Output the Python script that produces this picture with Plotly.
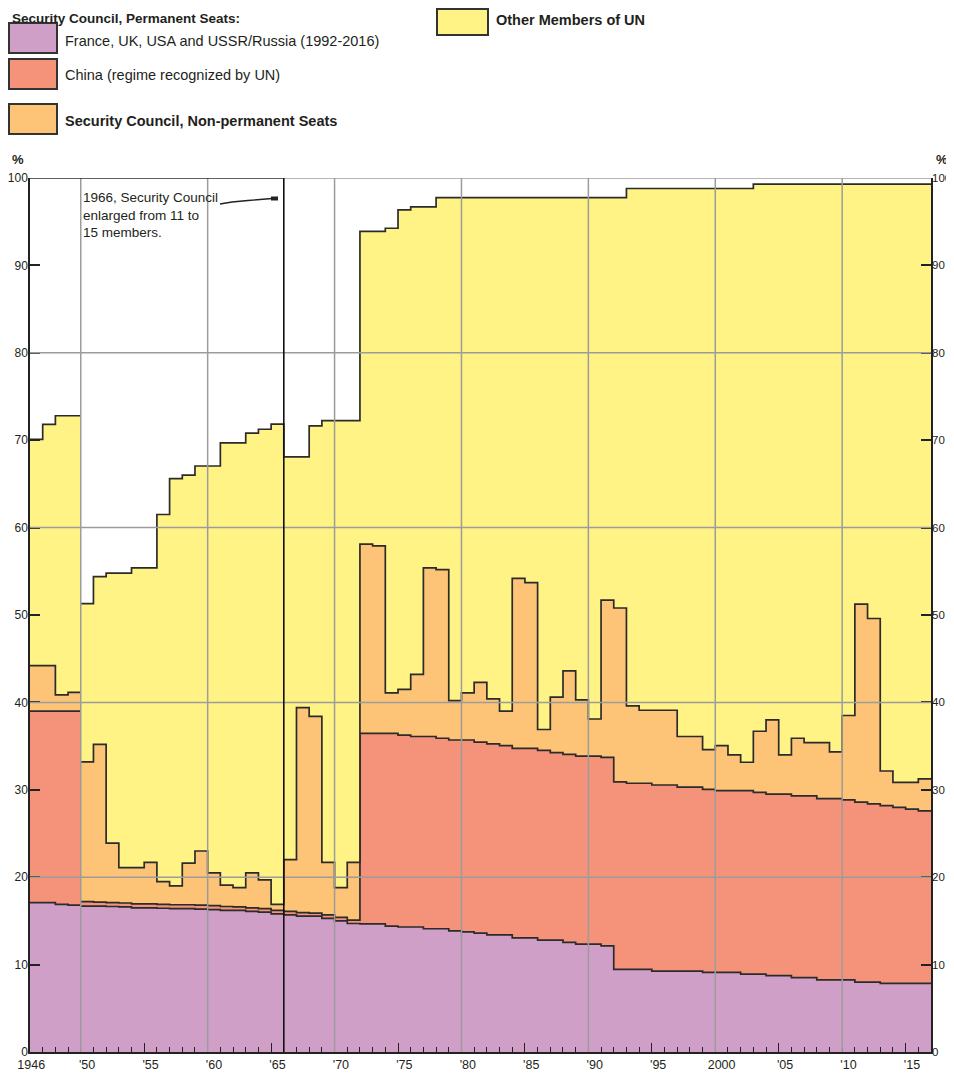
import plotly.graph_objects as go

# ---------------- data ----------------
years = list(range(1946, 2017))

# cumulative top of each band, % of world population
p5_top = [17.1, 17.1, 16.9, 16.8,
          16.7, 16.7, 16.65, 16.6, 16.5, 16.5, 16.45, 16.4, 16.4, 16.35,
          16.3, 16.2, 16.2, 16.1, 16.0, 15.8,
          15.7, 15.55, 15.55, 15.3, 15.0, 14.7, 14.65, 14.65, 14.4, 14.3,
          14.3, 14.1, 14.1, 13.85, 13.75, 13.6, 13.4, 13.4, 13.05, 13.05,
          12.8, 12.8, 12.55, 12.35, 12.35, 12.15, 9.45, 9.45, 9.45, 9.25,
          9.25, 9.25, 9.25, 9.1, 9.1, 9.1, 8.9, 8.9, 8.75, 8.75,
          8.5, 8.5, 8.25, 8.25, 8.25, 8.0, 8.0, 7.85, 7.85, 7.85, 7.85]

china_top = [39.0, 39.0, 39.0, 39.0,
             17.2, 17.15, 17.1, 17.05, 16.95, 16.95, 16.9, 16.85, 16.85, 16.8,
             16.75, 16.65, 16.6, 16.5, 16.4, 16.2,
             16.1, 15.95, 15.9, 15.7, 15.4, 15.1, 36.45, 36.45, 36.45, 36.25,
             36.1, 36.1, 35.9, 35.7, 35.7, 35.45, 35.25, 35.05, 34.75, 34.75,
             34.5, 34.25, 34.05, 33.85, 33.85, 33.7, 30.9, 30.75, 30.75, 30.55,
             30.55, 30.3, 30.3, 30.05, 29.9, 29.9, 29.9, 29.7, 29.5, 29.5,
             29.3, 29.3, 29.0, 29.0, 28.85, 28.6, 28.4, 28.2, 28.0, 27.8, 27.6]

np_top = [44.2, 44.2, 40.85, 41.15,
          33.2, 35.2, 23.9, 21.1, 21.1, 21.7, 19.5, 19.0, 21.6, 23.0,
          20.5, 19.1, 18.8, 20.5, 19.7, 16.9,
          22.0, 39.4, 38.4, 21.7, 18.8, 21.7, 58.1, 57.9, 41.1, 41.5,
          43.2, 55.4, 55.2, 40.2, 41.1, 42.3, 40.4, 39.0, 54.2, 53.7,
          36.9, 40.6, 43.6, 40.3, 38.1, 51.7, 50.8, 39.6, 39.1, 39.1,
          39.1, 36.1, 36.1, 34.6, 35.05, 34.0, 33.15, 36.7, 38.0, 34.0,
          35.9, 35.4, 35.4, 34.35, 38.5, 51.25, 49.6, 32.15, 30.85, 30.85, 31.25]

total = [70.1, 71.8, 72.8, 72.8,
         51.3, 54.4, 54.8, 54.8, 55.4, 55.4, 61.5, 65.6, 66.0, 67.05,
         67.05, 69.7, 69.7, 70.8, 71.25, 71.85,
         68.1, 68.1, 71.65, 72.25, 72.25, 72.25, 93.9, 93.9, 94.25, 96.35,
         96.7, 96.7, 97.75, 97.75, 97.75, 97.75, 97.75, 97.75, 97.75, 97.75,
         97.75, 97.75, 97.75, 97.75, 97.75, 97.75, 97.75, 98.8, 98.8, 98.8,
         98.8, 98.8, 98.8, 98.8, 98.8, 98.8, 98.8, 99.3, 99.3, 99.3,
         99.3, 99.3, 99.3, 99.3, 99.3, 99.3, 99.3, 99.3, 99.3, 99.3, 99.3]

segment_starts = [1946, 1950]          # series is broken at 1950
enlargement_year = 1966

layer_names = ["France, UK, USA and USSR/Russia (1992-2016)",
               "China (regime recognized by UN)",
               "Security Council, Non-permanent Seats",
               "Other Members of UN"]
layer_colors = ["#CF9FC8", "#F4937A", "#FDC376", "#FFF385"]

label_years = [1946, 1950, 1955, 1960, 1965, 1970, 1975, 1980, 1985, 1990,
               1995, 2000, 2005, 2010, 2015]
label_text = ["1946", "'50", "'55", "'60", "'65", "'70", "'75", "'80", "'85",
              "'90", "'95", "2000", "'05", "'10", "'15"]
grid_years = [1950, 1960, 1970, 1980, 1990, 2000, 2010]
long_tick_years = [1955, 1965, 1975, 1985, 1995, 2005, 2015]
grid_levels = [20, 40, 60, 80]
y_ticks = list(range(0, 101, 10))

# ---------------- layout geometry ----------------
# the page body adds an 8px offset, so the figure is drawn 8px smaller
OFF = 8
FIG_W, FIG_H = 954 - OFF, 1073 - OFF
ML, MR, MT, MB = 30 - OFF, 23, 178 - OFF, 21
PW, PH = FIG_W - ML - MR, FIG_H - MT - MB
X0, X1 = years[0], years[-1] + 1

def fx(px):
    """page pixel x -> paper x"""
    return (px - OFF - ML) / PW

def fy(py):
    """page pixel y -> paper y"""
    return (FIG_H - MB - (py - OFF)) / PH

OUT = "#2b2b2b"
TXT = "#231f20"
GRID = "#9c9c9c"
FONT = "Liberation Sans, Arial, sans-serif"

fig = go.Figure()

layers = [p5_top, china_top, np_top, total]
ends = segment_starts[1:] + [X1]
for s, e in zip(segment_starts, ends):
    idx = [i for i, yr in enumerate(years) if s <= yr < e]
    xs = [years[i] for i in idx] + [years[idx[-1]] + 1]
    for k, vals in enumerate(layers):
        ys = [vals[i] for i in idx] + [vals[idx[-1]]]
        fig.add_trace(go.Scatter(
            x=xs, y=ys, mode="lines",
            line=dict(shape="hv", color=OUT, width=1.7),
            fill="tozeroy" if k == 0 else "tonexty",
            fillcolor=layer_colors[k], name=layer_names[k],
            showlegend=False, hoverinfo="skip"))

# empty trace so that the mirrored right / secondary axes are drawn
fig.add_trace(go.Scatter(x=[], y=[], xaxis="x2", yaxis="y2", mode="lines",
                         showlegend=False, hoverinfo="skip"))

shapes = []
for gx in grid_years:
    shapes.append(dict(type="line", xref="x", yref="y", x0=gx, x1=gx, y0=0, y1=100,
                       line=dict(color=GRID, width=1.5), layer="above"))
for gy in grid_levels:
    shapes.append(dict(type="line", xref="x", yref="y", x0=X0, x1=X1, y0=gy, y1=gy,
                       line=dict(color=GRID, width=1.5), layer="above"))
# top frame
shapes.append(dict(type="line", xref="x", yref="y", x0=enlargement_year, x1=X1, y0=100, y1=100,
                   line=dict(color=GRID, width=1.5), layer="above"))
shapes.append(dict(type="line", xref="x", yref="y", x0=X0, x1=enlargement_year, y0=100, y1=100,
                   line=dict(color=OUT, width=1.5), layer="above"))
# 1966 marker line
shapes.append(dict(type="line", xref="x", yref="y", x0=enlargement_year, x1=enlargement_year,
                   y0=0, y1=100, line=dict(color="#111", width=1.6), layer="above"))

# annotation leader
lead = [(220, 204), (232, 202), (248, 200.5), (272, 198.5), (278, 198.5)]
path = "M " + " L ".join(f"{fx(a):.5f},{fy(b):.5f}" for a, b in lead)
shapes.append(dict(type="path", xref="paper", yref="paper", path=path,
                   line=dict(color="#222", width=1.3), layer="above"))
shapes.append(dict(type="rect", xref="paper", yref="paper",
                   x0=fx(271), x1=fx(278), y0=fy(200.5), y1=fy(196.5),
                   fillcolor="#222", line=dict(width=0), layer="above"))

# legend boxes
boxes = [(9, 23, 57, 53, layer_colors[0]),
         (9, 59, 57, 89, layer_colors[1]),
         (9, 104, 57, 134, layer_colors[2]),
         (437, 9, 488, 35, layer_colors[3])]
for x0, y0, x1, y1, c in boxes:
    shapes.append(dict(type="rect", xref="paper", yref="paper",
                       x0=fx(x0), x1=fx(x1), y0=fy(y1), y1=fy(y0),
                       fillcolor=c, line=dict(color="#333", width=2)))

LEG = 14.5
annotations = [
    dict(text="<b>Security Council, Permanent Seats:</b>", x=fx(9.5), y=fy(8.5),
         yanchor="top", font=dict(size=13.5)),
    dict(text=layer_names[0], x=fx(63), y=fy(41), font=dict(size=LEG)),
    dict(text=layer_names[1], x=fx(63), y=fy(75), font=dict(size=LEG)),
    dict(text="<b>" + layer_names[2] + "</b>", x=fx(63), y=fy(121), font=dict(size=LEG)),
    dict(text="<b>" + layer_names[3] + "</b>", x=fx(494), y=fy(20), font=dict(size=LEG)),
    dict(text="1966, Security Council<br>enlarged from 11 to<br>15 members.",
         x=fx(81), y=fy(188), yanchor="top", font=dict(size=13.5)),
    dict(text="<b>%</b>", x=fx(18), y=fy(160), xanchor="center", font=dict(size=13)),
    dict(text="<b>%</b>", x=fx(942), y=fy(160), xanchor="center", font=dict(size=13)),
]
for a in annotations:
    a.setdefault("xanchor", "left")
    a.setdefault("yanchor", "middle")
    a.update(xref="paper", yref="paper", showarrow=False, align="left")
    a["font"].update(family=FONT, color=TXT)

TICKFONT = dict(size=12.5, family=FONT, color=TXT)
yax = dict(range=[0, 100], tickmode="array", tickvals=y_ticks, ticks="inside",
           ticklen=10, tickwidth=1.5, tickcolor="#222", showline=True,
           linecolor="#222", linewidth=1.5, showgrid=False, zeroline=False,
           fixedrange=True, automargin=False)

fig.update_layout(
    template="none",
    width=FIG_W, height=FIG_H,
    margin=dict(l=ML, r=MR, t=MT, b=MB, pad=0),
    paper_bgcolor="white", plot_bgcolor="white",
    font=dict(family=FONT, color=TXT),
    showlegend=False,
    xaxis=dict(range=[X0, X1], tickmode="array",
               tickvals=[y + 0.5 if y != X0 else y + 0.1 for y in label_years],
               ticktext=label_text, ticks="", showgrid=False, zeroline=False,
               showline=True, linecolor="#222", linewidth=1.5,
               tickfont=TICKFONT, ticklabelstandoff=0, automargin=False,
               minor=dict(tickmode="array", tickvals=list(range(X0 + 1, X1)),
                          ticks="inside", ticklen=5, tickwidth=1.3,
                          tickcolor="#222", showgrid=False),
               fixedrange=True),
    xaxis2=dict(range=[X0, X1], overlaying="x", anchor="y", side="bottom",
                tickmode="array", tickvals=long_tick_years, ticks="inside",
                ticklen=9, tickwidth=1.3, tickcolor="#222",
                showticklabels=False, showgrid=False, zeroline=False,
                showline=False, fixedrange=True, automargin=False),
    yaxis=dict(side="left", tickfont=dict(size=12, family=FONT, color=TXT),
               ticklabelstandoff=-2, **yax),
    yaxis2=dict(overlaying="y", side="right", anchor="x",
                tickfont=dict(size=11.5, family=FONT, color=TXT),
                ticklabelstandoff=-3, **yax),
    shapes=shapes,
    annotations=annotations,
)

fig.write_html("out.html")
